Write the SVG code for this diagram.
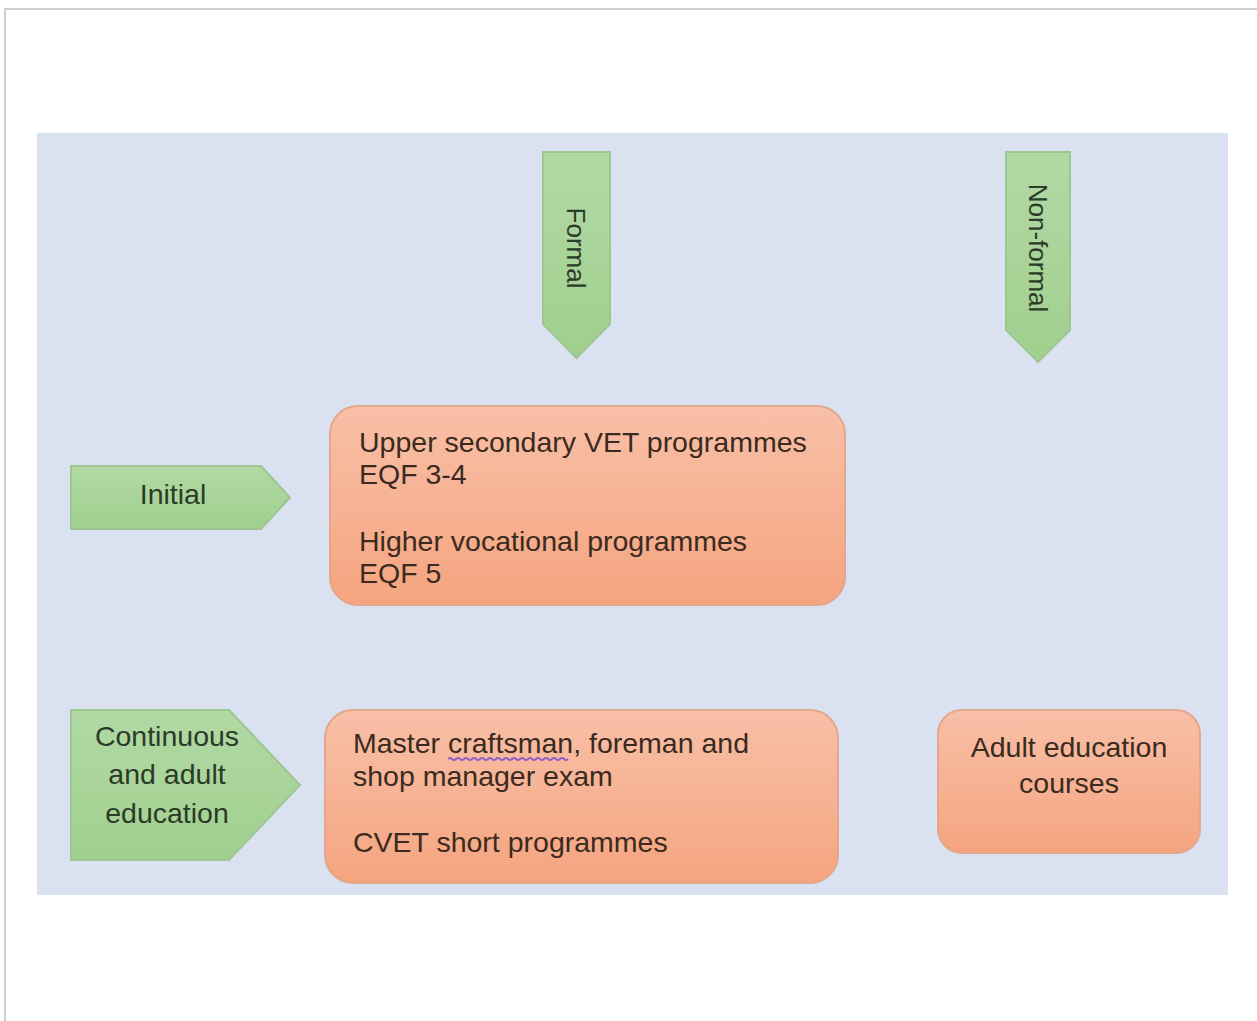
<svg xmlns="http://www.w3.org/2000/svg" width="1257" height="1021" viewBox="0 0 1257 1021">
<defs>
<linearGradient id="gOr" x1="0" y1="0" x2="0" y2="1">
<stop offset="0" stop-color="#f8c0a8"/>
<stop offset="1" stop-color="#f5a47f"/>
</linearGradient>
<linearGradient id="gGr" x1="0" y1="0" x2="0" y2="1">
<stop offset="0" stop-color="#b2d9a4"/>
<stop offset="1" stop-color="#a0cf8f"/>
</linearGradient>
<style>
.box{fill:url(#gOr);stroke:#e3a78c;stroke-width:2}
.arr{fill:url(#gGr);stroke:#9ec692;stroke-width:2}
.t{font-family:"Liberation Sans",Arial,sans-serif;font-size:28.5px;fill:#3b2a20}
.g{font-family:"Liberation Sans",Arial,sans-serif;font-size:28.5px;fill:#2c3b28}
.v{font-family:"Liberation Sans",Arial,sans-serif;font-size:26px;fill:#2c3b28}
</style>
</defs>
<rect width="1257" height="1021" fill="#ffffff"/>
<path d="M5,1021 V9 H1257" fill="none" stroke="#cfcfcf" stroke-width="2"/>
<rect x="37" y="133" width="1191" height="762" fill="#dae2f2"/>
<g id="connectors"></g>
<g id="formal">
<path class="arr" d="M543,152 H610 V324 L576.5,358 L543,324 Z"/>
<text class="v" transform="translate(576,248) rotate(90)" text-anchor="middle" dy="9">Formal</text>
</g>
<g id="nonformal">
<path class="arr" d="M1006,152 H1070 V330 L1038,362 L1006,330 Z"/>
<text class="v" transform="translate(1038,248) rotate(90)" text-anchor="middle" dy="9">Non-formal</text>
</g>
<g id="initial">
<path class="arr" d="M71,466 H261 L290,497.5 L261,529 H71 Z"/>
<text class="g" x="173" y="504" text-anchor="middle">Initial</text>
</g>
<g id="continuous">
<path class="arr" d="M71,710 H229 L300,785 L229,860 H71 Z"/>
<text class="g" x="167" y="746" text-anchor="middle">Continuous</text>
<text class="g" x="167" y="784" text-anchor="middle">and adult</text>
<text class="g" x="167" y="823" text-anchor="middle">education</text>
</g>
<g id="upper">
<rect class="box" x="330" y="406" width="515" height="199" rx="28"/>
<text class="t" x="359" y="452">Upper secondary VET programmes</text>
<text class="t" x="359" y="484">EQF 3-4</text>
<text class="t" x="359" y="551">Higher vocational programmes</text>
<text class="t" x="359" y="583">EQF 5</text>
</g>
<g id="master">
<rect class="box" x="325" y="710" width="513" height="173" rx="28"/>
<text class="t" x="353" y="753">Master craftsman, foreman and</text>
<path d="M448,759 q2,-2 4,0 t4,0 t4,0 t4,0 t4,0 t4,0 t4,0 t4,0 t4,0 t4,0 t4,0 t4,0 t4,0 t4,0 t4,0 t4,0 t4,0 t4,0 t4,0 t4,0 t4,0 t4,0 t4,0 t4,0 t4,0 t4,0 t4,0 t4,0 t4,0 t4,0" fill="none" stroke="#8e62c8" stroke-width="2"/>
<text class="t" x="353" y="786">shop manager exam</text>
<text class="t" x="353" y="852">CVET short programmes</text>
</g>
<g id="adult">
<rect class="box" x="938" y="710" width="262" height="143" rx="24"/>
<text class="t" x="1069" y="757" text-anchor="middle">Adult education</text>
<text class="t" x="1069" y="793" text-anchor="middle">courses</text>
</g>
</svg>
